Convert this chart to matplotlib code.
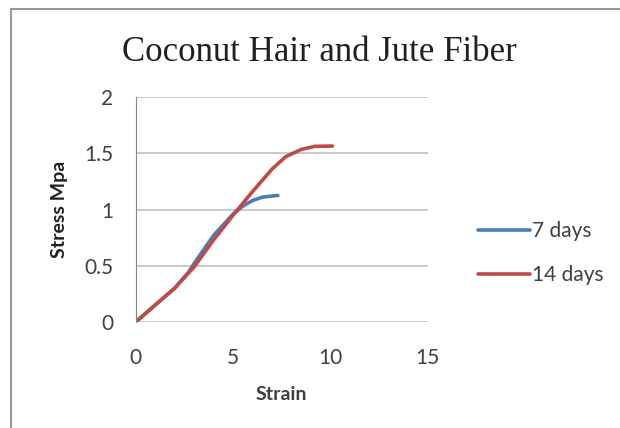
import matplotlib
matplotlib.use('Agg')
import matplotlib.pyplot as plt

plt.rcParams['font.family'] = ['Lato', 'DejaVu Sans']

# data
strain_7 = [0, 2, 2.7, 3, 4, 5, 5.5, 6, 6.5, 7, 7.3]
stress_7 = [0, 0.30, 0.44, 0.52, 0.77, 0.96, 1.03, 1.08, 1.11, 1.12, 1.125]
strain_14 = [0, 2, 3, 4, 5, 6, 7, 7.7, 8.5, 9.2, 10.1]
stress_14 = [0, 0.30, 0.49, 0.73, 0.95, 1.16, 1.36, 1.47, 1.535, 1.562, 1.565]

BLUE = '#4A7EBB'
RED = '#BE4B48'
GRID = '#C0C0C0'
TXT = '#404040'
FS = 15

fig = plt.figure(figsize=(6.2, 4.28), dpi=100)
fig.patch.set_facecolor('white')
# outer chart border, only top and left are visible
fig.add_artist(plt.Line2D([0.018, 0.018], [0, 0.979], color='#9A9A9A', lw=1.5))
fig.add_artist(plt.Line2D([0.018, 1.0], [0.979, 0.979], color='#9A9A9A', lw=1.5))

ax = fig.add_axes([0.219, 0.248, 0.471, 0.525])
ax.plot(strain_7, stress_7, color=BLUE, lw=2.6, label='7 days', solid_capstyle='round')
ax.plot(strain_14, stress_14, color=RED, lw=2.6, label='14 days', solid_capstyle='round')

ax.set_xlim(0, 15)
ax.set_ylim(0, 2)
ax.set_xticks([0, 5, 10, 15])
ax.set_yticks([0, 0.5, 1, 1.5, 2])
ax.set_yticklabels(['0', '0.5', '1', '1.5', '2'])
ax.yaxis.grid(True, color=GRID, lw=1.2)
ax.set_axisbelow(True)
for s in ['top', 'right', 'bottom']:
    ax.spines[s].set_visible(False)
ax.spines['left'].set_color('#868686')
ax.tick_params(length=0, labelsize=FS, colors=TXT)
ax.tick_params(axis='x', pad=19)
ax.tick_params(axis='y', pad=16)

ax.set_xlabel('Strain', fontsize=14, fontweight='bold', color=TXT, labelpad=13)
ax.set_ylabel('Stress Mpa', fontsize=14, fontweight='bold', color='#202020', labelpad=12)

fig.text(0.515, 0.878, 'Coconut Hair and Jute Fiber', family='Liberation Serif',
         fontsize=25, color='#202020', ha='center', va='center')

leg = ax.legend(loc='center left', bbox_to_anchor=(0.771, 0.4085),
                bbox_transform=fig.transFigure, frameon=False, borderpad=0,
                borderaxespad=0, fontsize=FS, handlelength=2.5,
                handletextpad=0.1, labelspacing=1.12)
for t in leg.get_texts():
    t.set_color(TXT)

fig.savefig('out.png', dpi=100, facecolor='white')
